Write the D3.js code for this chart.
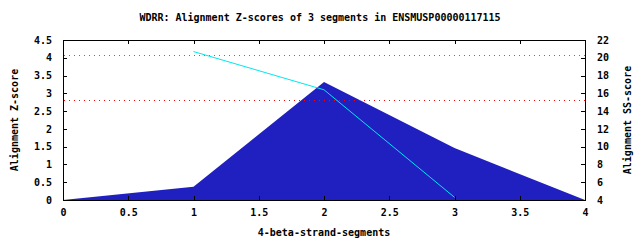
<!DOCTYPE html>
<html><head><meta charset="utf-8">
<script src="https://cdn.jsdelivr.net/npm/d3@7"></script>
<style>
html,body{margin:0;padding:0;background:#fff;}
text{font-family:"DejaVu Sans Mono",monospace;font-weight:bold;font-size:10px;fill:#000;}
</style></head>
<body>
<svg id="chart" width="640" height="240"></svg>
<script>
// ---- data ----
const titleText = "WDRR: Alignment Z-scores of 3 segments in ENSMUSP00000117115";
const xLabel = "4-beta-strand-segments";
const yLabel = "Alignment Z-score";
const y2Label = "Alignment SS-score";
const segments = [0, 1, 2, 3, 4];
const zScores = [0, 0.37, 3.32, 1.46, 0];
const ssSegments = [1, 2, 3];
const ssScores = [20.7, 16.4, 4.3];
const thresholdGreen = 4.08;
const thresholdRed = 2.8;
const xTicks = [0, 0.5, 1, 1.5, 2, 2.5, 3, 3.5, 4];
const yTicks = [0, 0.5, 1, 1.5, 2, 2.5, 3, 3.5, 4, 4.5];
const y2Ticks = [4, 6, 8, 10, 12, 14, 16, 18, 20, 22];

// ---- layout ----
const L = 63, R = 585, T = 40, B = 200;
const svg = d3.select("#chart");
const x = d3.scaleLinear().domain([0, 4]).range([L, R]);
const y = d3.scaleLinear().domain([0, 4.5]).range([B, T]);
const y2 = d3.scaleLinear().domain([4, 22]).range([B, T]);

// area
const area = d3.area().x(d => x(d[0])).y0(y(0)).y1(d => y(d[1]));
svg.append("path")
  .datum(segments.map((s, i) => [s, zScores[i]]))
  .attr("d", area)
  .attr("fill", "#2020c0");

// threshold lines
[[thresholdGreen, "#00c000"], [thresholdRed, "#ff0000"]].forEach(([v, c]) => {
  svg.append("line")
    .attr("x1", L + 1).attr("x2", R)
    .attr("y1", Math.round(y(v)) + 0.5).attr("y2", Math.round(y(v)) + 0.5)
    .attr("stroke", c).attr("stroke-width", 1)
    .attr("stroke-dasharray", "1,4");
});

// cyan SS line
const line = d3.line().x(d => x(d[0])).y(d => y2(d[1]));
svg.append("path")
  .datum(ssSegments.map((s, i) => [s, ssScores[i]]))
  .attr("d", line)
  .attr("fill", "none")
  .attr("stroke", "#00e8f0")
  .attr("stroke-width", 1);

// axes
const tl = 4;
svg.append("g").attr("transform", `translate(0,${B})`)
  .call(d3.axisBottom(x).tickValues(xTicks).tickFormat(d3.format("")).tickSizeInner(-tl).tickSizeOuter(0).tickPadding(9));
svg.append("g").attr("transform", `translate(0,${T})`)
  .call(d3.axisTop(x).tickValues(xTicks).tickFormat("").tickSizeInner(-tl).tickSizeOuter(0));
svg.append("g").attr("transform", `translate(${L},0)`)
  .call(d3.axisLeft(y).tickValues(yTicks).tickFormat(d3.format("")).tickSizeInner(-tl).tickSizeOuter(0).tickPadding(11));
svg.append("g").attr("transform", `translate(${R},0)`)
  .call(d3.axisRight(y2).tickValues(y2Ticks).tickFormat(d3.format("")).tickSizeInner(-tl).tickSizeOuter(0).tickPadding(12));
svg.selectAll(".domain").remove();
svg.selectAll(".tick line").attr("stroke", "#000").attr("shape-rendering", "crispEdges");
svg.selectAll(".tick text").style("font-family", "'DejaVu Sans Mono',monospace").style("font-size", "10px").style("font-weight", "bold");
// frame
svg.append("rect").attr("x", L + 0.5).attr("y", T + 0.5).attr("width", R - L).attr("height", B - T)
  .attr("fill", "none").attr("stroke", "#000").attr("stroke-width", 1).attr("shape-rendering", "crispEdges");

// titles
svg.append("text").attr("x", 320).attr("y", 21).attr("text-anchor", "middle").text(titleText);
svg.append("text").attr("x", (L + R) / 2).attr("y", 236).attr("text-anchor", "middle").text(xLabel);
svg.append("text").attr("transform", `translate(18,${(T + B) / 2}) rotate(-90)`).attr("text-anchor", "middle").text(yLabel);
svg.append("text").attr("transform", `translate(631,${(T + B) / 2}) rotate(-90)`).attr("text-anchor", "middle").text(y2Label);
</script>
</body></html>
